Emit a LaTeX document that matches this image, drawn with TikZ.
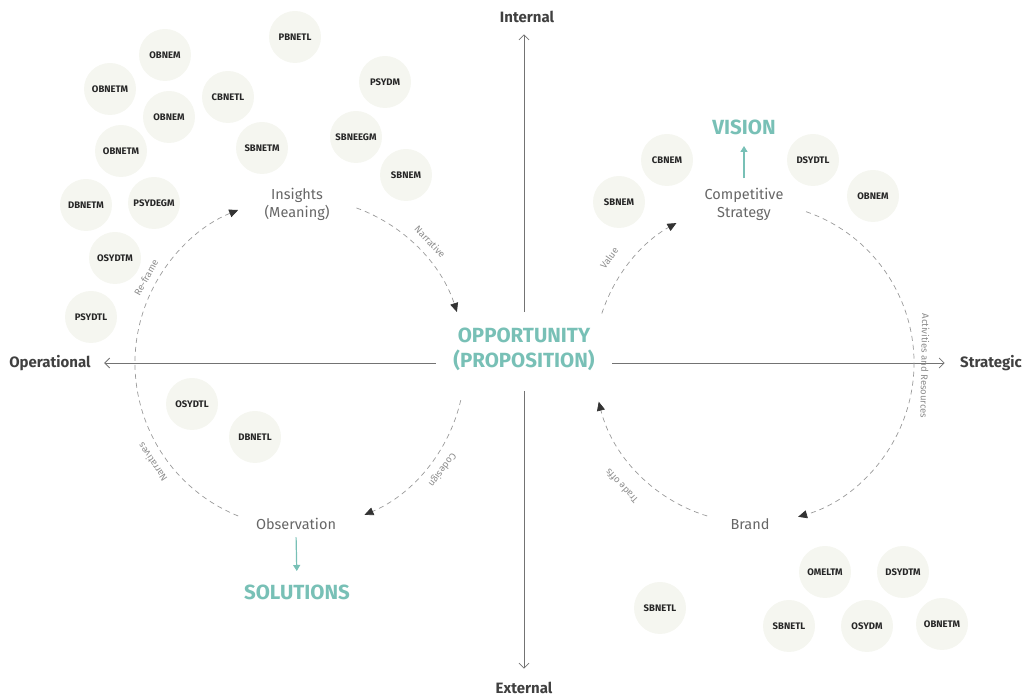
\documentclass[tikz,border=0pt]{standalone}
\usepackage{fontspec}
\setmainfont{Fira Sans}
\usetikzlibrary{arrows.meta,positioning}

\definecolor{oppteal}{RGB}{120,192,182}
\definecolor{bubblefill}{RGB}{245,246,240}

\tikzset{
  bubble/.style={circle,fill=bubblefill,minimum size=52pt,inner sep=0pt,
    font=\bfseries\fontsize{9.5}{10}\selectfont,text=black!85},
  stage/.style={font=\fontsize{14.5}{18}\selectfont,text=black!60,align=center},
  goal/.style={font=\bfseries\fontsize{20.5}{25}\selectfont,text=oppteal,align=center},
  axislabel/.style={font=\bfseries\fontsize{15}{17}\selectfont,text=black!75},
  axisline/.style={draw=black!55,line width=0.8pt,-{Straight Barb[length=5pt,width=10pt]}},
  flow/.style={draw=black!40,dash pattern=on 5pt off 4pt,line width=0.7pt,
    -{Triangle[length=9pt,width=8pt,color=black!80]}},
  arcnote/.style={font=\fontsize{9.5}{10}\selectfont,text=black!45},
  tealarrow/.style={draw=oppteal,line width=1.2pt,-{Triangle[length=6pt,width=7pt]}}
}

\begin{document}
\begin{tikzpicture}[x=1pt,y=1pt]
  \useasboundingbox (0,0) rectangle (1026,698);

  % bubbles
  \foreach \x/\y/\t [count=\i] in {295/661/PBNETL, 165/643/OBNEM, 110/609/OBNETM,
      228/601/CBNETL, 169/581/OBNEM, 385/616/PSYDM, 356/561/SBNEEGM, 262/550/SBNETM,
      121/547/OBNETM, 406/523/SBNEM, 86/493/DBNETM, 154/495/PSYDEGM, 115/440/OSYDTM,
      91/381/PSYDTL, 192/294/OSYDTL, 255/261/DBNETL,
      667/538/CBNEM, 619/496/SBNEM, 813/538/DSYDTL, 873/502/OBNEM,
      825/126/OMELTM, 903/126/DSYDTM, 660/90/SBNETL, 789/72/SBNETL, 867/72/OSYDM,
      942/74/OBNETM}
    \node[bubble] (bub\i) at (\x,\y) {\t};

  % axes
  \coordinate (c1) at (300,335);
  \coordinate (c2) at (754,335);
  \node[goal] (opp) at (524,349) {OPPORTUNITY\\(PROPOSITION)};
  \node[axislabel] (internal) at (527,681) {Internal};
  \node[axislabel] (external) at (524,10) {External};
  \node[axislabel] (oper) at (50,335) {Operational};
  \node[axislabel] (strat) at (991,335) {Strategic};
  \draw[axisline,shorten <=12pt,shorten >=8pt] (opp.north) -- (opp.north |- internal.south);
  \draw[axisline,shorten <=17pt,shorten >=10pt] (opp.south) -- (opp.south |- external.north);
  \draw[axisline,shorten <=14pt,shorten >=10pt] (opp.west |- oper.east) -- (oper.east);
  \draw[axisline,shorten <=14pt,shorten >=12pt] (opp.east |- strat.west) -- (strat.west);

  % left loop
  \node[stage] (insights) at (297,494) {Insights\\(Meaning)};
  \node[stage] (observation) at (296,174) {Observation};
  \node[goal] (solutions) at (297,106) {SOLUTIONS};
  \draw[tealarrow,shorten <=4pt,shorten >=10pt] (observation.south) -- (solutions.north);
  \draw[flow] ([shift={(248:165)}]c1) arc[start angle=248, end angle=112, radius=165];
  \draw[flow] ([shift={(70:165)}]c1) arc[start angle=70, end angle=18, radius=165];
  \draw[flow] ([shift={(-13:165)}]c1) arc[start angle=-13, end angle=-67, radius=165];
  \node[arcnote,rotate=61] (reframe) at ([shift={(151:176)}]c1) {Re-frame};
  \node[arcnote,rotate=-47] (narrative) at ([shift={(43:178)}]c1) {Narrative};
  \node[arcnote,rotate=124] (narratives) at ([shift={(-146:178)}]c1) {Narratives};
  \node[arcnote,rotate=-127] (codesign) at ([shift={(-37:178)}]c1) {Codesign};

  % right loop
  \node[stage] (strategy) at (744,494) {Competitive\\Strategy};
  \node[stage] (brand) at (750,174) {Brand};
  \node[goal] (vision) at (744,571) {VISION};
  \draw[tealarrow,shorten <=6pt,shorten >=8pt] (strategy.north) -- (vision.south);
  \draw[flow] ([shift={(162:160)}]c2) arc[start angle=162, end angle=119, radius=160];
  \draw[flow] ([shift={(71:160)}]c2) arc[start angle=71, end angle=-74, radius=160];
  \draw[flow] ([shift={(-107:160)}]c2) arc[start angle=-107, end angle=-166, radius=160];
  \node[arcnote,rotate=54] (value) at ([shift={(144:179)}]c2) {Value};
  \node[arcnote,rotate=-91] (activities) at ([shift={(-1:171)}]c2) {Activities and Resources};
  \node[arcnote,rotate=133] (tradeoffs) at ([shift={(-137:181)}]c2) {Trade offs};
\end{tikzpicture}
\end{document}
